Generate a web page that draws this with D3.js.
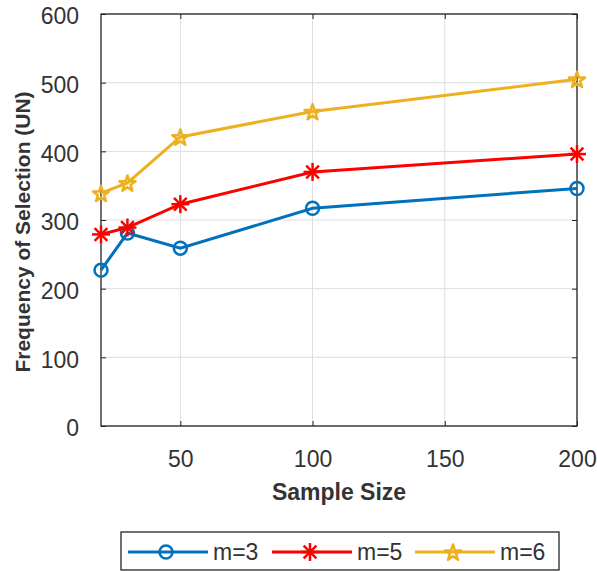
<!DOCTYPE html>
<html>
<head>
<meta charset="utf-8">
<script src="https://cdn.jsdelivr.net/npm/d3@7"></script>
<style>
  html, body { margin: 0; padding: 0; background: #ffffff; }
  svg { display: block; font-family: "Liberation Sans", Arial, Helvetica, sans-serif; }
</style>
</head>
<body>
<svg id="chart" width="597" height="571"></svg>
<script>
// ---- data ----
const sampleSizes = [20, 30, 50, 100, 200];
const m3Values = [227, 281, 259, 317, 346];
const m5Values = [279, 289, 323, 370, 396];
const m6Values = [339, 354, 421, 458, 505];
const seriesNames = ["m=3", "m=5", "m=6"];
const xTicks = [50, 100, 150, 200];
const yTicks = [0, 100, 200, 300, 400, 500, 600];
const xLabel = "Sample Size";
const yLabel = "Frequency of Selection (UN)";

(function () {
const series = [
  { name: seriesNames[0], values: m3Values, color: "#0072BD", marker: "circle" },
  { name: seriesNames[1], values: m5Values, color: "#FF0000", marker: "asterisk" },
  { name: seriesNames[2], values: m6Values, color: "#EDB120", marker: "star" }
];

const svg = d3.select("#chart");
const pL = 101, pR = 577, pT = 14, pB = 426;
const axisColor = "#262626";
const textColor = "#333333";

const x = d3.scaleLinear().domain([20, 200]).range([pL, pR]);
const y = d3.scaleLinear().domain([0, 600]).range([pB, pT]);

// grid
const grid = svg.append("g");
grid.selectAll("line.gx").data(xTicks).enter().append("line")
  .attr("x1", d => x(d)).attr("x2", d => x(d))
  .attr("y1", pT).attr("y2", pB)
  .attr("stroke", "#dedede").attr("stroke-width", 1);
grid.selectAll("line.gy").data(yTicks).enter().append("line")
  .attr("x1", pL).attr("x2", pR)
  .attr("y1", d => y(d)).attr("y2", d => y(d))
  .attr("stroke", "#dedede").attr("stroke-width", 1);

// axes with inward ticks
const fontSize = 23;
const xAxis = d3.axisBottom(x).tickValues(xTicks).tickSizeInner(-5).tickSizeOuter(0).tickPadding(25);
const yAxis = d3.axisLeft(y).tickValues(yTicks).tickSizeInner(-5).tickSizeOuter(0).tickPadding(22);
const gx = svg.append("g").attr("transform", `translate(0,${pB})`).call(xAxis);
const gy = svg.append("g").attr("transform", `translate(${pL},0)`).call(yAxis);
[gx, gy].forEach(g => {
  g.select(".domain").remove();
  g.selectAll(".tick line").attr("stroke", axisColor).attr("stroke-width", 1);
  g.selectAll(".tick text").attr("fill", textColor).attr("font-size", fontSize)
    .attr("font-family", "Liberation Sans, Arial, sans-serif");
});
gy.selectAll(".tick text").attr("dy", "0.42em");
gx.selectAll(".tick text").attr("dy", "0.71em");

// top and right ticks
const gxt = svg.append("g").attr("transform", `translate(0,${pT})`)
  .call(d3.axisTop(x).tickValues(xTicks).tickSizeInner(-5).tickSizeOuter(0).tickFormat(""));
const gyr = svg.append("g").attr("transform", `translate(${pR},0)`)
  .call(d3.axisRight(y).tickValues(yTicks).tickSizeInner(-5).tickSizeOuter(0).tickFormat(""));
[gxt, gyr].forEach(g => {
  g.select(".domain").remove();
  g.selectAll(".tick line").attr("stroke", axisColor).attr("stroke-width", 1);
});

// box
svg.append("rect").attr("x", pL).attr("y", pT)
  .attr("width", pR - pL).attr("height", pB - pT)
  .attr("fill", "none").attr("stroke", axisColor).attr("stroke-width", 1.3);

// labels
svg.append("text").attr("x", (pL + pR) / 2).attr("y", 500)
  .attr("text-anchor", "middle").attr("font-weight", "bold").attr("font-size", 23)
  .attr("fill", textColor).text(xLabel);
svg.append("text").attr("transform", `translate(30,${(pT + pB) / 2 + 12}) rotate(-90)`)
  .attr("text-anchor", "middle").attr("font-weight", "bold").attr("font-size", 21)
  .attr("fill", textColor).text(yLabel);

// markers
function drawMarker(g, type, color, cx, cy) {
  if (type === "circle") {
    g.append("circle").attr("cx", cx).attr("cy", cy).attr("r", 6.5)
      .attr("fill", "none").attr("stroke", color).attr("stroke-width", 2.5);
  } else if (type === "asterisk") {
    const r = 9;
    [0, 45, 90, 135].forEach(deg => {
      const rad = deg * Math.PI / 180;
      g.append("line")
        .attr("x1", cx - r * Math.cos(rad)).attr("y1", cy - r * Math.sin(rad))
        .attr("x2", cx + r * Math.cos(rad)).attr("y2", cy + r * Math.sin(rad))
        .attr("stroke", color).attr("stroke-width", 2.5);
    });
  } else if (type === "star") {
    g.append("path").attr("transform", `translate(${cx},${cy + 1})`)
      .attr("d", d3.symbol().type(d3.symbolStar).size(80)())
      .attr("fill", "none").attr("stroke", color).attr("stroke-width", 2.5)
      .attr("stroke-linejoin", "round");
  }
}

const line = d3.line().x(d => x(d[0])).y(d => y(d[1]));
series.forEach(s => {
  const pts = sampleSizes.map((v, i) => [v, s.values[i]]);
  const g = svg.append("g");
  g.append("path").attr("d", line(pts)).attr("fill", "none")
    .attr("stroke", s.color).attr("stroke-width", 3);
  pts.forEach(p => drawMarker(g, s.marker, s.color, x(p[0]), y(p[1])));
});

// legend
const lg = svg.append("g");
lg.append("rect").attr("x", 121).attr("y", 532).attr("width", 438).attr("height", 38)
  .attr("fill", "#ffffff").attr("stroke", axisColor).attr("stroke-width", 1.3);
const legendX = [128, 272, 415];
series.forEach((s, i) => {
  const lx = legendX[i], ly = 552;
  lg.append("line").attr("x1", lx).attr("x2", lx + 80).attr("y1", ly).attr("y2", ly)
    .attr("stroke", s.color).attr("stroke-width", 3);
  drawMarker(lg, s.marker, s.color, lx + 38, ly);
  lg.append("text").attr("x", lx + 85).attr("y", ly).attr("dy", "0.36em")
    .attr("font-size", 23).attr("fill", textColor).text(s.name);
});
})();
</script>
</body>
</html>
